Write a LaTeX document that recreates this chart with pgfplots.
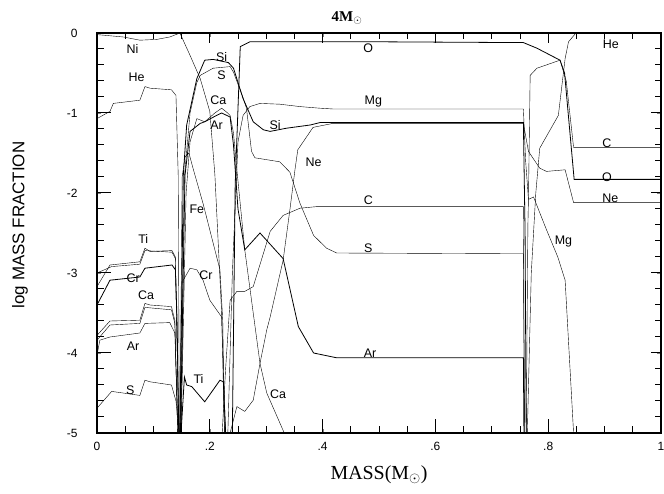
\documentclass[border=0pt]{standalone}
\usepackage{pgfplots}
\pgfplotsset{compat=1.18}
\usepackage{fontspec}
\setmainfont{Liberation Serif}
\setsansfont{Liberation Sans}
\newcommand{\lab}[3]{\node[font=\sffamily\fontsize{12.5}{14}\selectfont, inner sep=0pt] at (axis cs:#1,#2) {#3};}
\begin{document}
\begin{tikzpicture}
\path[use as bounding box] (-97bp,-61bp) rectangle (567bp,433bp);
\begin{axis}[
  at={(0,0)}, anchor=south west,
  width=564bp, height=400bp, scale only axis,
  xmin=0, xmax=1, ymin=-5, ymax=0,
  xtick={0,0.2,0.4,0.6,0.8,1}, xticklabels={0,.2,.4,.6,.8,1},
  ytick={-5,-4,-3,-2,-1,0}, yticklabels={-5,-4,-3,-2,-1,0},
  ticklabel style={font=\sffamily\fontsize{12}{14}\selectfont},
  xticklabel style={anchor=base, yshift=-17bp},
  yticklabel style={anchor=east, xshift=-16bp},
  axis line style={line width=1.1bp},
  cycle list={{black, solid, mark=none, line width=0.8bp}},
]
% Ni
\addplot coordinates {(0,-0.02) (0.047,-0.05) (0.076,-0.09) (0.106,-0.08) (0.129,-0.05) (0.147,0) (0.165,-0.28) (0.183,-0.57) (0.2,-0.98) (0.209,-1.77) (0.221,-3.5) (0.226,-5)};
% He core
\addplot coordinates {(0,-1.07) (0.023,-0.98) (0.029,-0.88) (0.076,-0.84) (0.085,-0.67) (0.094,-0.69) (0.132,-0.71) (0.140,-0.78) (0.144,-1.78) (0.146,-5)};
% He outer
\addplot coordinates {(0.763,-5) (0.770,-3.0) (0.778,-2.0) (0.785,-1.44) (0.818,-1.03) (0.830,-0.32) (0.836,-0.11) (0.848,-0.01) (1,-0.01)};
% O
\addplot coordinates {(0.240,-5) (0.245,-1.9) (0.254,-0.17) (0.271,-0.11) (0.5,-0.11) (0.756,-0.12) (0.780,-0.19) (0.821,-0.34) (0.829,-0.5) (0.846,-1.83) (1,-1.83)};
% C
\addplot coordinates {(0.222,-5) (0.228,-4.2) (0.236,-3.34) (0.248,-3.23) (0.262,-3.23) (0.277,-3.17) (0.307,-2.48) (0.330,-2.28) (0.360,-2.19) (0.390,-2.17) (0.756,-2.17) (0.758,-5)};
\addplot coordinates {(0.761,-5) (0.764,-2.4) (0.765,-2.07) (0.768,-0.53) (0.780,-0.44) (0.821,-0.34) (0.832,-0.6) (0.845,-1.43) (1,-1.43)};
% Mg
\addplot coordinates {(0.232,-5) (0.240,-3.0) (0.250,-1.36) (0.259,-1.03) (0.271,-0.92) (0.289,-0.88) (0.324,-0.89) (0.360,-0.92) (0.395,-0.94) (0.419,-0.95) (0.756,-0.95) (0.760,-1.6) (0.765,-2.08) (0.774,-2.05) (0.797,-2.46) (0.817,-2.8) (0.830,-3.09) (0.845,-5)};
% Si
\addplot coordinates {(0.147,-5) (0.153,-1.78) (0.159,-1.15) (0.177,-0.57) (0.191,-0.34) (0.206,-0.33) (0.233,-0.37) (0.242,-0.44) (0.259,-0.82) (0.277,-1.11) (0.295,-1.21) (0.307,-1.23) (0.336,-1.19) (0.378,-1.15) (0.395,-1.12) (0.756,-1.12) (0.759,-2.5) (0.761,-5)};
% S
\addplot coordinates {(0.147,-5) (0.155,-1.8) (0.165,-1.0) (0.177,-0.62) (0.183,-0.53) (0.206,-0.44) (0.236,-0.42) (0.242,-0.49) (0.259,-0.81) (0.265,-0.94) (0.274,-1.48) (0.280,-1.56) (0.324,-1.61) (0.342,-1.74) (0.360,-2.13) (0.384,-2.53) (0.407,-2.69) (0.425,-2.75) (0.756,-2.76) (0.758,-5)};
% Ne
\addplot coordinates {(0.236,-5) (0.248,-4.67) (0.262,-4.73) (0.277,-4.59) (0.289,-4.13) (0.301,-3.71) (0.307,-3.55) (0.330,-2.84) (0.342,-2.21) (0.351,-1.71) (0.356,-1.46) (0.383,-1.18) (0.418,-1.13) (0.756,-1.13) (0.765,-1.48) (0.785,-1.69) (0.797,-1.73) (0.830,-1.71) (0.845,-2.12) (1,-2.12)};
% Ar
\addplot coordinates {(0,-4.03) (0.005,-3.84) (0.023,-3.8) (0.076,-3.75) (0.085,-3.63) (0.129,-3.62) (0.138,-3.75) (0.144,-5)};
\addplot coordinates {(0.148,-5) (0.156,-1.78) (0.165,-1.23) (0.183,-1.13) (0.191,-1.11) (0.212,-1.03) (0.221,-1.0) (0.230,-1.03) (0.236,-1.05) (0.242,-1.4) (0.250,-2.2) (0.262,-2.71) (0.289,-2.50) (0.330,-2.82) (0.357,-3.67) (0.384,-4.0) (0.425,-4.06) (0.756,-4.06) (0.757,-5)};
% Ca
\addplot coordinates {(0,-3.78) (0.023,-3.6) (0.076,-3.59) (0.085,-3.38) (0.094,-3.4) (0.132,-3.42) (0.138,-3.59) (0.143,-5)};
\addplot coordinates {(0,-3.84) (0.023,-3.65) (0.076,-3.63) (0.085,-3.43) (0.132,-3.46) (0.138,-3.63) (0.143,-5)};
\addplot coordinates {(0.149,-5) (0.158,-2.0) (0.165,-1.36) (0.177,-1.07) (0.191,-1.11) (0.209,-1.0) (0.221,-0.94) (0.230,-0.99) (0.236,-1.03) (0.242,-1.25) (0.248,-1.71) (0.262,-2.71) (0.277,-3.5) (0.289,-4.13) (0.301,-4.5) (0.332,-5)};
% Cr
\addplot coordinates {(0,-3.4) (0.023,-3.09) (0.076,-3.05) (0.085,-2.94) (0.133,-2.9) (0.139,-2.96) (0.142,-3.6) (0.145,-5)};
\addplot coordinates {(0.149,-5) (0.153,-3.09) (0.165,-2.94) (0.177,-2.96) (0.188,-3.09) (0.2,-3.34) (0.221,-3.55) (0.228,-5)};
% Ti
\addplot coordinates {(0,-3.17) (0.023,-2.9) (0.076,-2.86) (0.085,-2.69) (0.094,-2.73) (0.133,-2.72) (0.139,-2.8) (0.145,-5)};
\addplot coordinates {(0,-3.0) (0.026,-2.92) (0.076,-2.89) (0.085,-2.72) (0.133,-2.74) (0.139,-2.82) (0.145,-5)};
\addplot coordinates {(0.149,-5) (0.155,-4.3) (0.159,-4.4) (0.168,-4.42) (0.191,-4.61) (0.218,-4.34) (0.224,-4.36) (0.228,-5)};
% S core
\addplot coordinates {(0,-4.69) (0.026,-4.48) (0.076,-4.53) (0.085,-4.34) (0.094,-4.36) (0.132,-4.4) (0.140,-4.6) (0.146,-5)};
% Fe
\addplot coordinates {(0.147,-5) (0.151,-1.8) (0.156,-1.55) (0.163,-1.5) (0.171,-1.71) (0.188,-2.13) (0.218,-2.96) (0.223,-3.6) (0.226,-5)};
% labels
\lab{0.063}{-0.2}{Ni}
\lab{0.070}{-0.55}{He}
\lab{0.221}{-0.30}{Si}
\lab{0.221}{-0.53}{S}
\lab{0.215}{-0.84}{Ca}
\lab{0.212}{-1.15}{Ar}
\lab{0.316}{-1.15}{Si}
\lab{0.481}{-0.19}{O}
\lab{0.49}{-0.86}{Mg}
\lab{0.384}{-1.61}{Ne}
\lab{0.481}{-2.09}{C}
\lab{0.481}{-2.69}{S}
\lab{0.484}{-4.0}{Ar}
\lab{0.177}{-2.2}{Fe}
\lab{0.193}{-3.03}{Cr}
\lab{0.082}{-2.58}{Ti}
\lab{0.064}{-3.07}{Cr}
\lab{0.087}{-3.28}{Ca}
\lab{0.064}{-3.92}{Ar}
\lab{0.059}{-4.46}{S}
\lab{0.18}{-4.32}{Ti}
\lab{0.321}{-4.51}{Ca}
\lab{0.827}{-2.61}{Mg}
\lab{0.911}{-0.14}{He}
\lab{0.904}{-1.38}{C}
\lab{0.904}{-1.8}{O}
\lab{0.91}{-2.06}{Ne}
\end{axis}
% frame ticks drawn in picture coordinates (axis box is 564bp x 400bp at the origin)
\foreach \i in {0,...,20}{
  \pgfmathsetmacro{\xx}{\i*28.2}
  \pgfmathtruncatemacro{\m}{mod(\i,4)}
  \ifnum\m=0
    \draw[line width=1bp] (\xx bp,0) -- (\xx bp,14bp);
    \draw[line width=1bp] (\xx bp,400bp) -- (\xx bp,390bp);
  \else
    \draw[line width=1bp] (\xx bp,0) -- (\xx bp,7bp);
    \draw[line width=1bp] (\xx bp,400bp) -- (\xx bp,394bp);
  \fi
}
\foreach \j in {0,...,25}{
  \pgfmathsetmacro{\yy}{\j*16}
  \pgfmathtruncatemacro{\m}{mod(\j,5)}
  \ifnum\m=0
    \draw[line width=1bp] (0,\yy bp) -- (14bp,\yy bp);
    \draw[line width=1bp] (564bp,\yy bp) -- (554bp,\yy bp);
  \else
    \draw[line width=1bp] (0,\yy bp) -- (7bp,\yy bp);
    \draw[line width=1bp] (564bp,\yy bp) -- (558bp,\yy bp);
  \fi
}
\node[font=\fontsize{15}{18}\selectfont] at (250bp,415bp) {\textbf{4M}$_{\odot}$};
\node[font=\fontsize{20}{24}\selectfont] at (282bp,-42bp) {MASS(M$_{\odot}$)};
\node[font=\sffamily\fontsize{17}{20}\selectfont, rotate=90] at (-77bp,208bp) {log MASS FRACTION};
\end{tikzpicture}
\end{document}
